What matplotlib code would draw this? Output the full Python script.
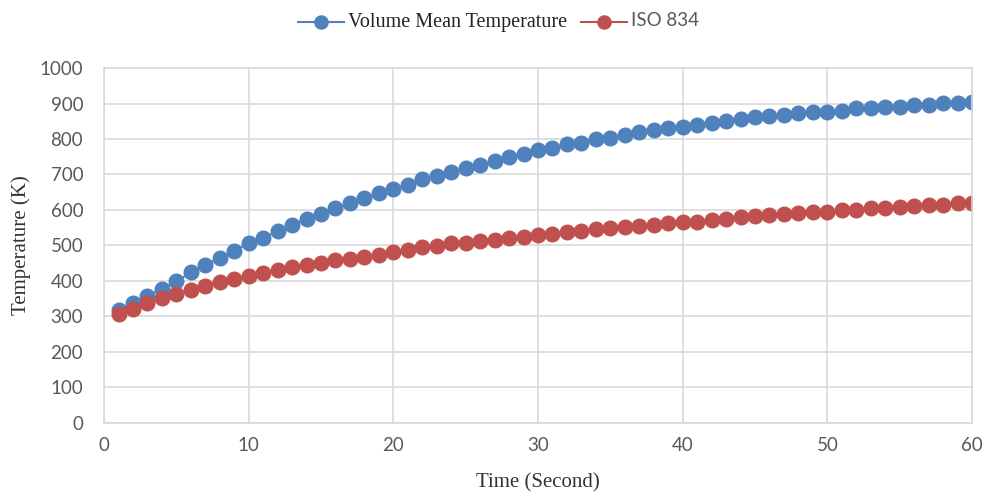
import matplotlib
matplotlib.use('Agg')
import matplotlib.pyplot as plt
import numpy as np

# time in seconds
time_s = list(range(1, 61))

# volume mean temperature (K)
volume_mean = [319, 337, 359, 378, 399, 424, 444, 465, 484, 507,
               520, 541, 558, 575, 589, 605, 619, 635, 647, 660,
               670, 688, 697, 706, 717, 727, 738, 748, 758, 769,
               774, 785, 790, 800, 804, 811, 821, 825, 830, 835,
               840, 846, 851, 855, 861, 866, 868, 872, 877, 877,
               880, 886, 886, 891, 891, 896, 896, 902, 902, 905]

# ISO 834 standard fire curve (K)
iso_834 = [308, 322, 337, 351, 362, 375, 387, 398, 406, 414,
           423, 430, 439, 445, 452, 459, 463, 468, 474, 482,
           487, 495, 499, 506, 507, 513, 516, 520, 525, 530,
           533, 537, 542, 546, 548, 553, 556, 559, 562, 566,
           566, 572, 574, 579, 584, 585, 590, 591, 593, 594,
           600, 601, 605, 606, 609, 610, 614, 615, 619, 620]

blue = '#4f81bd'
red = '#c0504d'
grid_c = '#d9d9d9'
tick_c = '#595959'

fig = plt.figure(figsize=(9.88, 4.96), dpi=100)
ax = fig.add_axes([0.1053, 0.1472, 0.8785, 0.7157])

ax.plot(time_s, volume_mean, color=blue, lw=1.5, marker='o', ms=10.5,
        mec=blue, mfc=blue, label='Volume Mean Temperature')
ax.plot(time_s, iso_834, color=red, lw=1.5, marker='o', ms=10.5,
        mec=red, mfc=red, label='ISO 834')

ax.set_xlim(0, 60)
ax.set_ylim(0, 1000)
ax.set_xticks(np.arange(0, 61, 10))
ax.set_yticks(np.arange(0, 1001, 100))
ax.grid(True, color=grid_c, lw=1.2)
ax.set_axisbelow(True)
for s in ax.spines.values():
    s.set_color(grid_c)
    s.set_linewidth(1.2)
ax.tick_params(length=0, labelsize=13.5, colors=tick_c)
ax.tick_params(axis='y', pad=15)
ax.tick_params(axis='x', pad=10)
for lab in ax.get_xticklabels() + ax.get_yticklabels():
    lab.set_family('Lato')

serif = dict(family='Liberation Serif', fontsize=15, color='#333333')
ax.set_xlabel('Time (Second)', labelpad=14, **serif)
ax.set_ylabel('Temperature (K)', labelpad=6, **serif)

leg = fig.legend(loc='upper center', bbox_to_anchor=(0.505, 1.0), ncol=2,
                 frameon=False, handlelength=3.3, handletextpad=0.3,
                 columnspacing=1.0, markerscale=0.9)
texts = leg.get_texts()
texts[0].set_family('Liberation Serif')
texts[0].set_fontsize(14.5)
texts[0].set_color('#222222')
texts[1].set_family('Lato')
texts[1].set_fontsize(13.5)
texts[1].set_color(tick_c)

fig.savefig('out.png', dpi=100)
